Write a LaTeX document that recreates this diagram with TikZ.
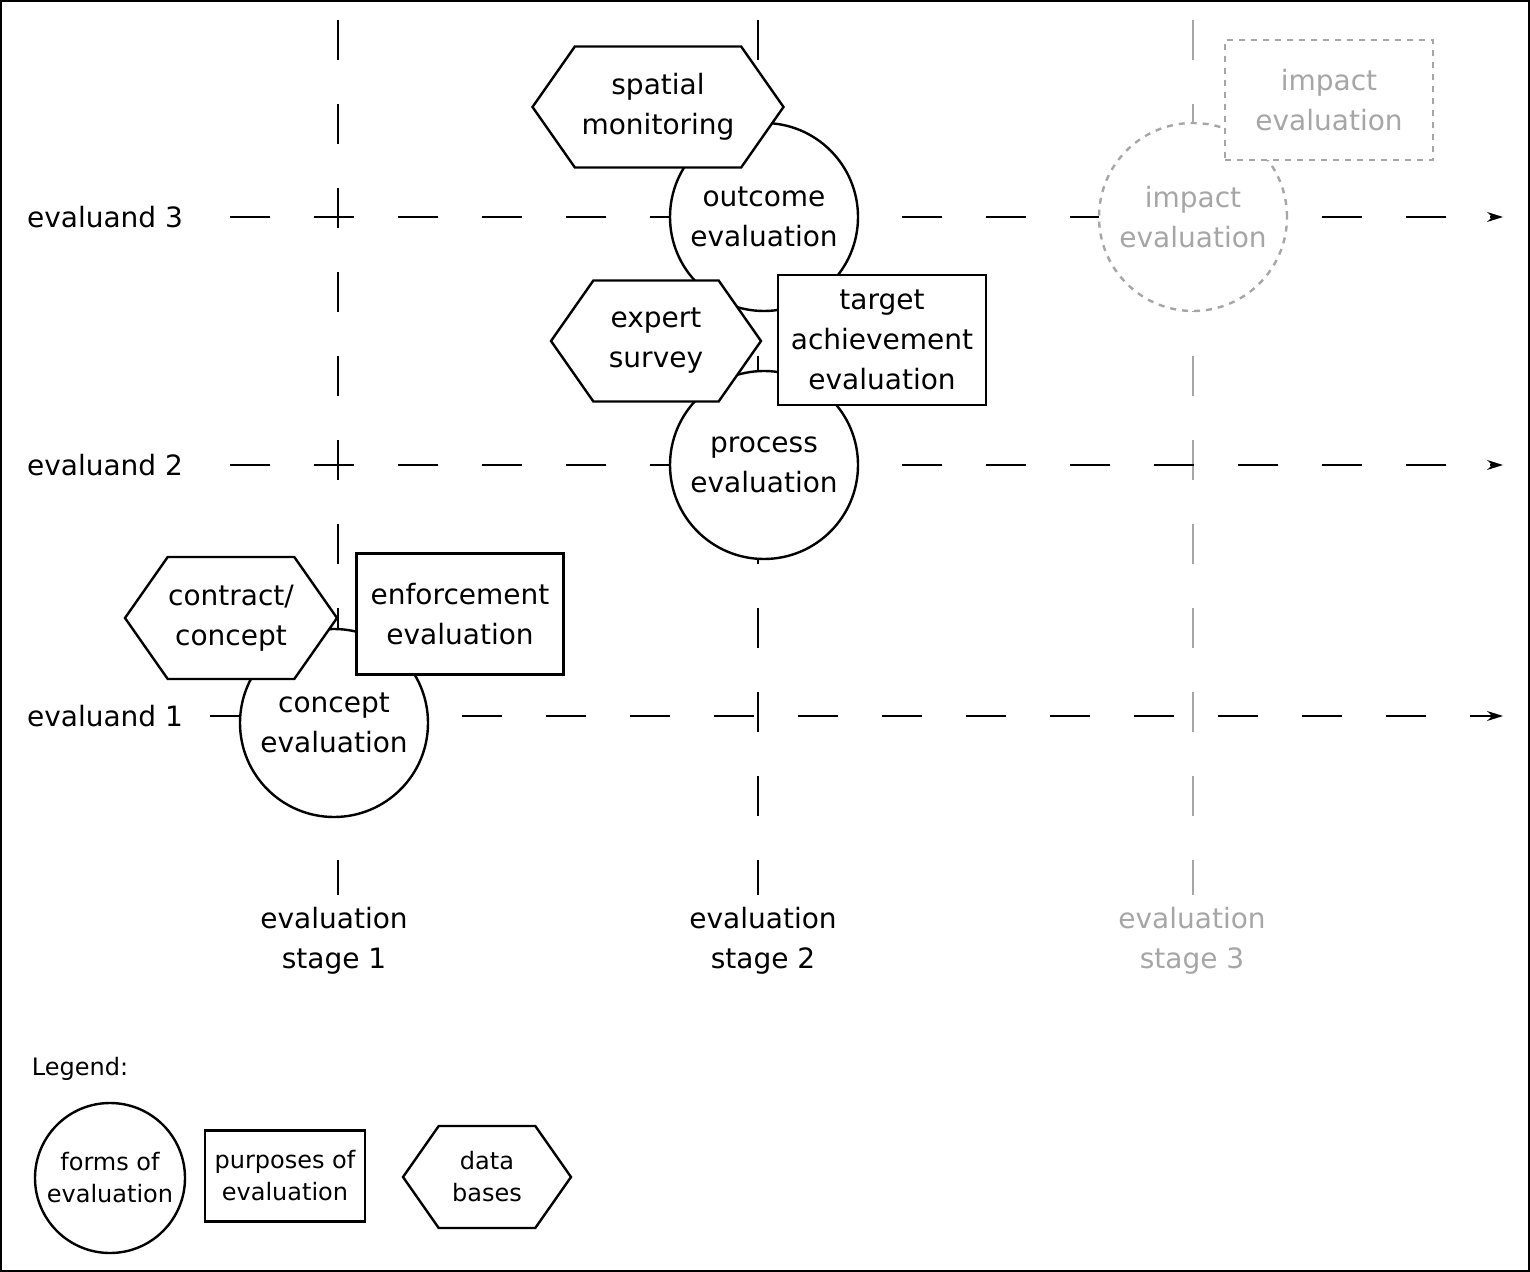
\documentclass[tikz,border=0pt]{standalone}
\usepackage{fontspec}
\setmainfont{DejaVu Sans}
\usetikzlibrary{shapes.symbols,arrows.meta}
\tikzset{
  form/.style={draw, circle, fill=white, line width=1.2pt, minimum size=94pt, inner sep=0pt, align=center, font=\fontsize{14}{20}\selectfont},
  purpose/.style={draw, rectangle, fill=white, line width=1.2pt, inner sep=0pt, align=center, font=\fontsize{14}{20}\selectfont},
  database/.style={draw, signal, signal to=west and east, signal pointer angle=110, fill=white, line width=1.2pt, inner sep=0pt, align=center, font=\fontsize{14}{20}\selectfont},
  lbl/.style={align=center, font=\fontsize{14}{20}\selectfont},
  timeline/.style={line width=0.8pt, dash pattern=on 20pt off 22pt, -{Stealth[length=8pt,width=5pt]}},
  stageline/.style={line width=0.8pt, dash pattern=on 20pt off 22pt}
}
\begin{document}
\begin{tikzpicture}[x=0.5pt, y=-0.5pt]
  \useasboundingbox (0,0) rectangle (1530,1272);
  \draw[line width=1pt] (1,1) rectangle (1529,1271);

  % stages
  \coordinate (s1t) at (338,20);  \coordinate (s1b) at (338,895);
  \coordinate (s2t) at (758,20);  \coordinate (s2b) at (758,895);
  \coordinate (s3t) at (1193,20); \coordinate (s3b) at (1193,895);
  \draw[stageline] (s1t) -- (s1b);
  \draw[stageline] (s2t) -- (s2b);
  \draw[stageline, gray!70] (s3t) -- (s3b);

  % evaluands
  \node[lbl] (e3) at (105,217) {evaluand 3};
  \node[lbl] (e2) at (105,465) {evaluand 2};
  \node[lbl] (e1) at (105,716) {evaluand 1};
  \coordinate (e3end) at (1503,217);
  \coordinate (e2end) at (1503,465);
  \coordinate (e1end) at (1503,716);
  \draw[timeline] (e3.east) ++(20pt,0) -- (e3end);
  \draw[timeline] (e2.east) ++(20pt,0) -- (e2end);
  \draw[timeline] (e1.east) ++(10pt,0) -- (e1end);

  \node[lbl] (st1) at (334,941) {evaluation\\stage 1};
  \node[lbl] (st2) at (763,941) {evaluation\\stage 2};
  \node[lbl, gray!70] (st3) at (1192,941) {evaluation\\stage 3};

  % forms of evaluation
  \node[form] (concept) at (334,723) {concept\\evaluation};
  \node[form] (outcome) at (764,217) {outcome\\evaluation};
  \node[form] (process) at (764,465) {process\\evaluation};
  \node[form, draw=gray!70, text=gray!70, dashed] (impact) at (1193,217) {impact\\evaluation};

  % purposes and data bases
  \node[database, minimum width=106pt, minimum height=61pt] (contract) at (231,618) {contract/\\concept};
  \node[purpose, minimum width=103.5pt, minimum height=60.5pt] (enforce) at (460,614) {enforcement\\evaluation};
  \node[database, minimum width=125.5pt, minimum height=60.5pt] (spatial) at (658,107) {spatial\\monitoring};
  \node[database, minimum width=105pt, minimum height=60.5pt] (expert) at (656,341) {expert\\survey};
  \node[purpose, minimum width=104pt, minimum height=65pt] (target) at (882,340) {target\\achievement\\evaluation};
  \node[purpose, draw=gray!70, text=gray!70, dashed, minimum width=104pt, minimum height=60pt] (impactp) at (1329,100) {impact\\evaluation};

  % legend
  \node[font=\fontsize{12}{15}\selectfont] (legend) at (80,1069) {Legend:};
  \node[form, minimum size=75pt, font=\fontsize{12}{16}\selectfont] (lform) at (110,1178) {forms of\\evaluation};
  \node[purpose, minimum width=80pt, minimum height=45.5pt, font=\fontsize{12}{16}\selectfont] (lpurpose) at (285,1176) {purposes of\\evaluation};
  \node[database, minimum width=84pt, minimum height=51pt, font=\fontsize{12}{16}\selectfont] (ldata) at (487,1177) {data\\bases};
\end{tikzpicture}
\end{document}
